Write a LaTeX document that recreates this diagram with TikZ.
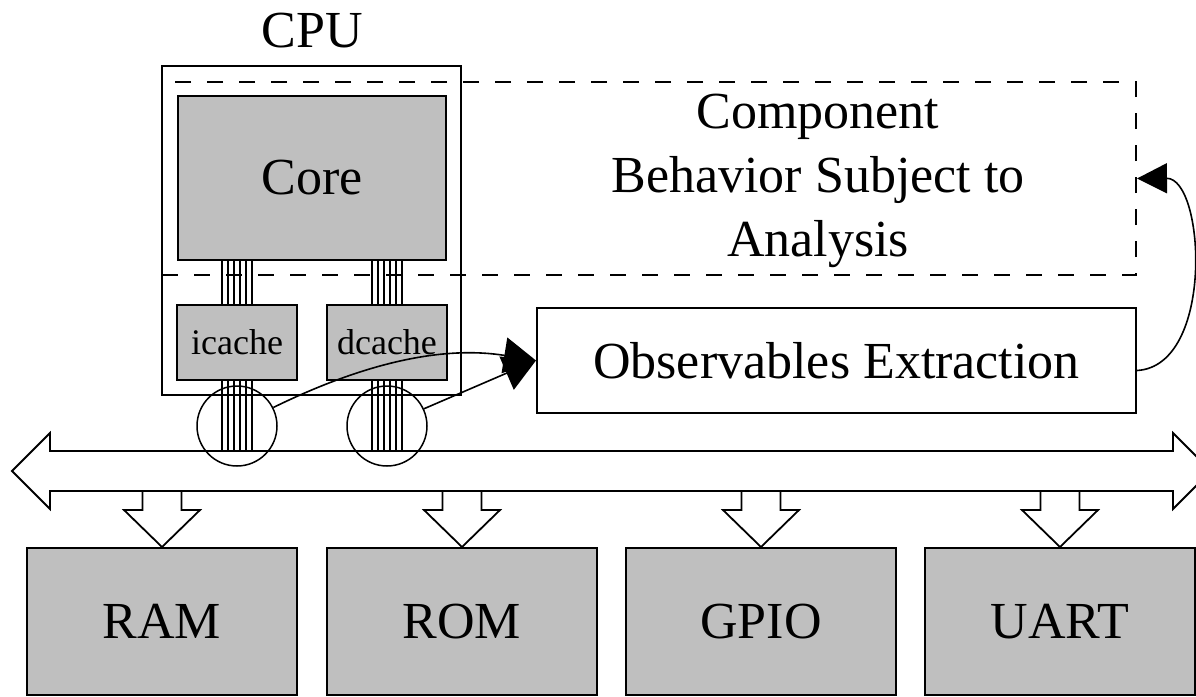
\documentclass[tikz,border=0pt]{standalone}
\usepackage{fontspec}
\setmainfont{Liberation Serif}
\usetikzlibrary{arrows.meta,calc}
\definecolor{boxgray}{gray}{0.75}
\tikzset{
  big/.style={font=\fontsize{26}{32}\selectfont},
  small/.style={font=\fontsize{18}{22}\selectfont},
  graybox/.style={draw, line width=1pt, fill=boxgray, inner sep=0pt},
  plainbox/.style={draw, line width=1pt, inner sep=0pt},
  dashbox/.style={draw, line width=1pt, dash pattern=on 8pt off 8pt, inner sep=0pt},
  wire/.style={line width=0.7pt},
  probe/.style={draw, circle, line width=0.75pt, minimum size=40pt, inner sep=0pt},
  link/.style={line width=0.8pt, -{Triangle[length=15pt,width=15pt]}},
  biglink/.style={line width=0.8pt, -{Triangle[length=16pt,width=18pt]}},
  busline/.style={line width=0.9pt, line join=miter},
}
\begin{document}
\begin{tikzpicture}[x=0.5pt, y=-0.5pt]
  \clip (0,0) rectangle (1196,697);

  % CPU with its core and caches
  \node[plainbox, minimum width=149.5pt, minimum height=164.5pt] (cpu) at (311.5,230.5) {};
  \node[big, anchor=base] (cpulabel) at (312,47) {CPU};
  \node[graybox, big, minimum width=134pt, minimum height=82pt] (core) at (312,178) {Core};
  \node[graybox, small, minimum width=60pt, minimum height=37.5pt] (icache) at (237,342.5) {icache};
  \node[graybox, small, minimum width=60pt, minimum height=37.5pt] (dcache) at (387,342.5) {dcache};

  % system bus level
  \coordinate (bustop) at (0,451);

  % wires: core to caches, caches to bus
  \foreach \c in {icache,dcache} {
    \foreach \o in {-7.5,-4.5,-1.5,1.5,4.5,7.5} {
      \draw[wire] ($(\c.north |- core.south)+(\o pt,0)$) -- ($(\c.north)+(\o pt,0)$);
      \draw[wire] ($(\c.south)+(\o pt,0)$) -- ($(\c.south |- bustop)+(\o pt,0)$);
    }
  }

  % region under analysis
  \node[dashbox, minimum width=487pt, minimum height=96.5pt] (analysis) at (649,178.5) {};
  \node[big, align=center] (analysislabel) at (818,181) {Component\\Behavior Subject to\\Analysis};

  % observables extraction
  \node[plainbox, big, minimum width=299.5pt, minimum height=52.5pt] (obs) at (836.5,360.5) {Observables Extraction};

  % bidirectional bus
  \draw[busline, fill=white] (12,471) -- (50,433) -- (50,451) -- (1173,451) -- (1173,433) -- (1211,471)
    -- (1173,509) -- (1173,491) -- (50,491) -- (50,509) -- cycle;

  % peripherals
  \foreach \n/\t/\cx in {ram/RAM/162, rom/ROM/462, gpio/GPIO/761, uart/UART/1060} {
    \node[graybox, big, minimum width=135pt, minimum height=73.5pt] (\n) at (\cx,621.5) {\t};
    \draw[busline] (\cx-19.5,491) -- (\cx-19.5,510) -- (\cx-38,510) -- (\n.north) -- (\cx+38,510)
      -- (\cx+19.5,510) -- (\cx+19.5,491);
  }

  % probes on the cache buses
  \node[probe] (p1) at (237,426) {};
  \node[probe] (p2) at (387,426) {};

  % taps feeding the extraction
  \draw[biglink] (p1.27) .. controls (360,365) and (440,345) .. (obs.west);
  \draw[biglink] (p2.25) -- (obs.west);

  % feedback to the analysed behaviour
  \draw[link] ([yshift=-5pt]obs.east) .. controls (1215,366) and (1205,178) .. (analysis.east);
\end{tikzpicture}
\end{document}
